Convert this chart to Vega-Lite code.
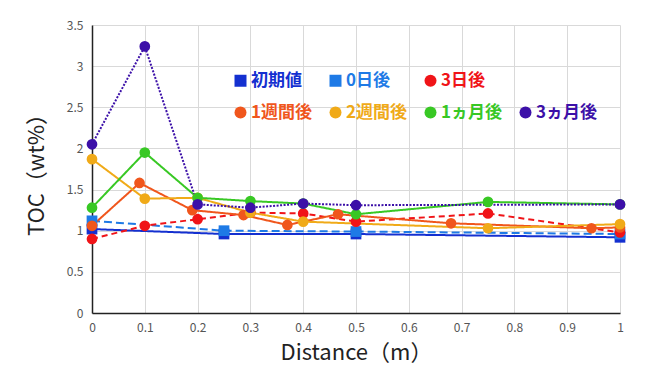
{
  "$schema": "https://vega.github.io/schema/vega-lite/v6.json",
  "width": 528,
  "height": 288,
  "autosize": {"type": "none"},
  "padding": {"left": 92, "top": 25, "right": 52, "bottom": 65},
  "background": "white",
  "config": {"view": {"stroke": null}, "font": "Noto Sans CJK JP"},
  "data": {"values": [
    {"s": "初期値", "d": 0, "toc": 1.02},
    {"s": "初期値", "d": 0.25, "toc": 0.96},
    {"s": "初期値", "d": 0.5, "toc": 0.96},
    {"s": "初期値", "d": 1, "toc": 0.92},
    {"s": "0日後", "d": 0, "toc": 1.12},
    {"s": "0日後", "d": 0.25, "toc": 1.0},
    {"s": "0日後", "d": 0.5, "toc": 0.99},
    {"s": "0日後", "d": 1, "toc": 0.96},
    {"s": "3日後", "d": 0, "toc": 0.9},
    {"s": "3日後", "d": 0.1, "toc": 1.06},
    {"s": "3日後", "d": 0.2, "toc": 1.14},
    {"s": "3日後", "d": 0.3, "toc": 1.22},
    {"s": "3日後", "d": 0.4, "toc": 1.21},
    {"s": "3日後", "d": 0.5, "toc": 1.11},
    {"s": "3日後", "d": 0.75, "toc": 1.21},
    {"s": "3日後", "d": 1, "toc": 0.98},
    {"s": "1週間後", "d": 0, "toc": 1.06},
    {"s": "1週間後", "d": 0.09, "toc": 1.58},
    {"s": "1週間後", "d": 0.19, "toc": 1.25},
    {"s": "1週間後", "d": 0.287, "toc": 1.19},
    {"s": "1週間後", "d": 0.37, "toc": 1.07},
    {"s": "1週間後", "d": 0.466, "toc": 1.2},
    {"s": "1週間後", "d": 0.68, "toc": 1.09},
    {"s": "1週間後", "d": 0.946, "toc": 1.03},
    {"s": "1週間後", "d": 1, "toc": 1.04},
    {"s": "2週間後", "d": 0, "toc": 1.87},
    {"s": "2週間後", "d": 0.1, "toc": 1.39},
    {"s": "2週間後", "d": 0.2, "toc": 1.4},
    {"s": "2週間後", "d": 0.3, "toc": 1.22},
    {"s": "2週間後", "d": 0.4, "toc": 1.11},
    {"s": "2週間後", "d": 0.75, "toc": 1.03},
    {"s": "2週間後", "d": 1, "toc": 1.08},
    {"s": "1ヵ月後", "d": 0, "toc": 1.28},
    {"s": "1ヵ月後", "d": 0.1, "toc": 1.95},
    {"s": "1ヵ月後", "d": 0.2, "toc": 1.4},
    {"s": "1ヵ月後", "d": 0.3, "toc": 1.36},
    {"s": "1ヵ月後", "d": 0.4, "toc": 1.33},
    {"s": "1ヵ月後", "d": 0.5, "toc": 1.2},
    {"s": "1ヵ月後", "d": 0.75, "toc": 1.35},
    {"s": "1ヵ月後", "d": 1, "toc": 1.32},
    {"s": "3ヵ月後", "d": 0, "toc": 2.05},
    {"s": "3ヵ月後", "d": 0.1, "toc": 3.24},
    {"s": "3ヵ月後", "d": 0.2, "toc": 1.32},
    {"s": "3ヵ月後", "d": 0.3, "toc": 1.28},
    {"s": "3ヵ月後", "d": 0.4, "toc": 1.33},
    {"s": "3ヵ月後", "d": 0.5, "toc": 1.31},
    {"s": "3ヵ月後", "d": 1, "toc": 1.32}
  ]},
  "encoding": {
    "x": {
      "field": "d", "type": "quantitative",
      "scale": {"domain": [0, 1], "nice": false},
      "axis": {
        "values": [0, 0.1, 0.2, 0.3, 0.4, 0.5, 0.6, 0.7, 0.8, 0.9, 1],
        "format": "~g", "labelFlush": false, "ticks": false,
        "labelPadding": 9, "labelFontSize": 12, "labelColor": "#555",
        "domainColor": "#222", "domainWidth": 1.5,
        "gridColor": "#d9d9d9", "gridWidth": 1,
        "title": "Distance（m）", "titleFontSize": 22, "titleFontWeight": "normal",
        "titleColor": "#222", "titlePadding": 9
      }
    },
    "y": {
      "field": "toc", "type": "quantitative",
      "scale": {"domain": [0, 3.5], "nice": false},
      "axis": {
        "values": [0, 0.5, 1, 1.5, 2, 2.5, 3, 3.5],
        "format": "~g", "ticks": false,
        "labelPadding": 9, "labelFontSize": 12, "labelColor": "#555",
        "domainColor": "#222", "domainWidth": 1.5,
        "gridColor": "#d9d9d9", "gridWidth": 1,
        "title": "TOC（wt%）", "titleFontSize": 22, "titleFontWeight": "normal",
        "titleColor": "#222", "titlePadding": 18
      }
    }
  },
  "resolve": {"legend": {"color": "independent", "shape": "independent", "strokeDash": "independent"}},
  "layer": [
    {
      "mark": {"type": "line", "strokeWidth": 2},
      "encoding": {
        "color": {
          "field": "s", "type": "nominal", "legend": null,
          "scale": {
            "domain": ["初期値", "0日後", "3日後", " ", "1週間後", "2週間後", "1ヵ月後", "3ヵ月後"],
            "range": ["#1430d0", "#1e7ae6", "#f01418", "transparent", "#f0561c", "#f0aa18", "#38c824", "#3c10a8"]
          }
        },
        "strokeDash": {
          "field": "s", "type": "nominal", "legend": null,
          "scale": {
            "domain": ["初期値", "0日後", "3日後", " ", "1週間後", "2週間後", "1ヵ月後", "3ヵ月後"],
            "range": [[1, 0], [8, 4], [6, 4], [1, 0], [1, 0], [1, 0], [1, 0], [2, 1.5]]
          }
        }
      }
    },
    {
      "mark": {"type": "point", "filled": true, "opacity": 1, "size": 115},
      "encoding": {
        "color": {
          "field": "s", "type": "nominal",
          "scale": {
            "domain": ["初期値", "0日後", "3日後", " ", "1週間後", "2週間後", "1ヵ月後", "3ヵ月後"],
            "range": ["#1430d0", "#1e7ae6", "#f01418", "transparent", "#f0561c", "#f0aa18", "#38c824", "#3c10a8"]
          },
          "legend": {
            "orient": "none", "legendX": 140, "legendY": 47,
            "direction": "horizontal", "columns": 4, "title": null,
            "symbolSize": 144, "symbolStrokeWidth": 0, "symbolOpacity": 1,
            "labelFontSize": 17, "labelFontWeight": "bold", "labelOffset": 2,
            "labelColor": {"expr": "scale('color', datum.value)"},
            "columnPadding": 14, "rowPadding": 14
          }
        },
        "shape": {
          "field": "s", "type": "nominal",
          "scale": {
            "domain": ["初期値", "0日後", "3日後", " ", "1週間後", "2週間後", "1ヵ月後", "3ヵ月後"],
            "range": ["square", "square", "circle", "circle", "circle", "circle", "circle", "circle"]
          }
        }
      }
    }
  ]
}
